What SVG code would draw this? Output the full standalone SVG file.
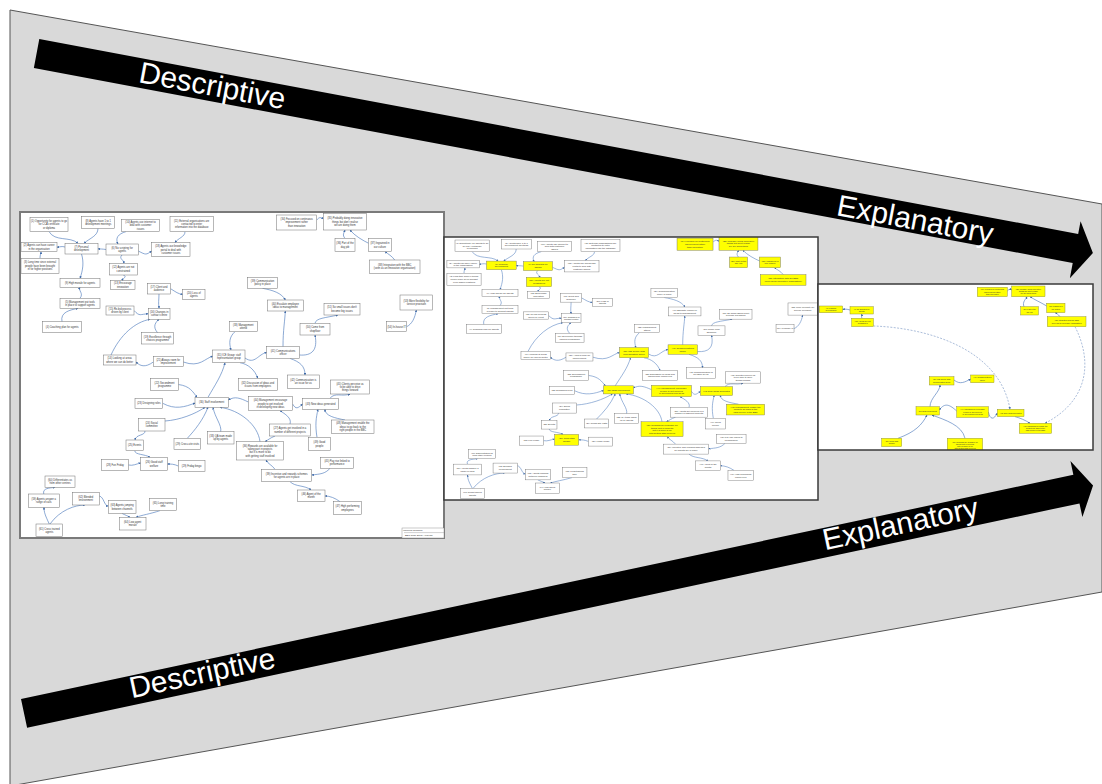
<svg xmlns="http://www.w3.org/2000/svg" xmlns:xlink="http://www.w3.org/1999/xlink" width="1102" height="784" viewBox="0 0 1102 784">
  <defs>
    <style>
      .band { fill: #000; }
      .big { font-family: "Liberation Sans", Arial, sans-serif; font-size: 30px; fill: #fff; }
      .frame { fill: #fff; }
      .nd rect { fill: #fff; stroke: #707070; stroke-width: 0.5; }
      .nd.hl rect { fill: var(--hl, #fff); }
      .nd text { font-family: "Liberation Sans", Arial, sans-serif; font-size: 2.6px; fill: #333; text-anchor: middle; }
      .rn rect { fill: #ffff00; stroke: #8a8a3a; stroke-width: 0.45; }
      .rn text { font-family: "Liberation Sans", Arial, sans-serif; font-size: 1.9px; fill: #333; text-anchor: middle; }
      .links path { fill: none; stroke: #4f7cbd; stroke-width: 0.65; marker-end: url(#ah); }
      .links path.dash { stroke-dasharray: 2 1.4; stroke: #7f9bc6; }
      .cap text { font-family: "Liberation Sans", Arial, sans-serif; font-size: 2.4px; fill: #333; }
    </style>
    <marker id="ah" viewBox="0 0 6 6" refX="5.5" refY="3" markerWidth="2.4" markerHeight="2.4" markerUnits="userSpaceOnUse" orient="auto">
      <path d="M0,0 L6,3 L0,6 z" fill="#3f6aa8"/>
    </marker>
    <clipPath id="midClip"><rect x="444" y="237" width="374" height="263"/></clipPath>
    <clipPath id="rightClip"><rect x="818" y="284" width="275" height="166"/></clipPath>

    <!-- influence diagram (full map), drawn in panel coordinates -->
    <g id="map">
      <g id="connectors" class="links">
        <path d="M49,231.6 C55,242 70,236 78,243.3"/>
        <path d="M98,228.4 C98,236 90,238 84,243.3"/>
        <path d="M65,247 C62,246 60,247 57,247.2"/>
        <path d="M40,258.3 C40,255 41,253 41,251.7"/>
        <path d="M106,249.5 C103,249 100,249 98,248.8"/>
        <path d="M81.5,254 C84,262 83,270 80,278.3"/>
        <path d="M80,298.3 C84,293 78,291 80,287.3"/>
        <path d="M62,321.7 C60,312 70,310 78,308.3"/>
        <path d="M126,231.6 C118,234 115,238 118,244"/>
        <path d="M138.3,251 C146,255 146,255 151.7,251"/>
        <path d="M185,231.7 C185,237 178,238 175,242.7"/>
        <path d="M122,255 C118,259 125,260 123.3,263.3"/>
        <path d="M123.3,275 C128,277 122,278 122.8,280.7"/>
        <path d="M159,294 C159,300 158,303 159.2,308.3"/>
        <path d="M170.6,288.7 C176,292 178,294 182.7,294.3"/>
        <path d="M134,310.5 C140,317 140,314 148.3,313.8"/>
        <path d="M157.5,332.7 C152,326 156,322 159,319.3"/>
        <path d="M111,355 C120,335 135,322 150,319.3"/>
        <path d="M153.3,362 C145,368 140,366 136,362"/>
        <path d="M183.3,362 C200,368 205,358 212.7,356.3"/>
        <path d="M235,331.7 C229,337 229,343 231,350"/>
        <path d="M245,358 C255,365 258,354 266.7,352.5"/>
        <path d="M262.5,288.3 C272,290 282,293 285.3,300"/>
        <path d="M283,346.7 C283,330 285,320 285.3,311"/>
        <path d="M299.4,355 C312,356 318,350 315,335"/>
        <path d="M315,323.3 C316,318 325,318 338,315"/>
        <path d="M290,358.4 C300,362 305,366 305,375"/>
        <path d="M240,362.7 C248,364 255,370 257.8,378.3"/>
        <path d="M208,397.3 C215,385 222,375 225,362.7"/>
        <path d="M178.4,384.5 C190,386 193,392 197,397.3"/>
        <path d="M162.7,403.3 C175,410 185,407 195,403"/>
        <path d="M165,421 C180,420 195,414 205,407.3"/>
        <path d="M248.3,402 C240,398 235,396 228.3,400"/>
        <path d="M292.6,404 C296,410 298,408 302.7,404"/>
        <path d="M330,398.3 C335,392 342,397 350,394"/>
        <path d="M345,420 C335,418 325,416 325,409.3"/>
        <path d="M317,437.3 C315,425 316,418 318,409.3"/>
        <path d="M187.3,438.3 C195,430 203,420 208,407.3"/>
        <path d="M220.7,431.7 C222,425 215,418 213,407.3"/>
        <path d="M260,441.7 C258,425 240,410 220,407.3"/>
        <path d="M290,424 C292,418 285,414 280,410.7"/>
        <path d="M275,436 C270,438 268,440 265,441.7"/>
        <path d="M145,431 C145,436 136,434 135,440"/>
        <path d="M134.7,450.7 C135,455 145,454 150,457.3"/>
        <path d="M128.4,465 C133,466 136,464 140.7,463"/>
        <path d="M178.3,466 C174,464 171,464 167.4,464"/>
        <path d="M275,469.3 C272,465 268,464 266,460"/>
        <path d="M330,468.3 C325,474 320,474 311.7,475"/>
        <path d="M290,481.6 C295,487 305,485 311,490"/>
        <path d="M340,501.7 C335,498 330,496 325,496"/>
        <path d="M43.8,494 C42,488 50,488 55,487.3"/>
        <path d="M49.3,524 C45,515 44,512 44,507.3"/>
        <path d="M50,524 C60,510 75,505 85,505"/>
        <path d="M99.3,496 C104,497 104,506 108.3,506"/>
        <path d="M122,513.4 C125,515 128,516 130,517.3"/>
        <path d="M160,510.6 C150,514 142,515 136,517.3"/>
        <path d="M316.7,220 C319,217 321,217 323.3,219"/>
        <path d="M345,238.3 C342,235 344,233 345,230"/>
        <path d="M370,244 C362,240 355,236 350,230"/>
        <path d="M394.7,260 C392,256 388,254 385,251.6"/>
        <path d="M406.7,326.7 C412,324 415,318 416.3,310"/>
      </g>
      <g id="n1" class="nd"><rect x="30" y="217.3" width="38" height="14.3"/><text y="222.05"><tspan x="49">(1) Opportunity for agents to go</tspan><tspan x="49" dy="3.3">for CCA certificate</tspan><tspan x="49" dy="3.3">or diploma</tspan></text></g>
      <g id="n8" class="nd"><rect x="81.7" y="216.7" width="33" height="11.7"/><text y="221.8"><tspan x="98.2">(8) Agents have 1 to 1</tspan><tspan x="98.2" dy="3.3">development meetings</tspan></text></g>
      <g id="n2" class="nd"><rect x="21" y="242.7" width="36" height="9"/><text y="246.45"><tspan x="39">(2) Agents can have career</tspan><tspan x="39" dy="3.3">in the organisation</tspan></text></g>
      <g id="n7" class="nd hl"><rect x="65" y="243.3" width="33" height="10.7"/><text y="247.9"><tspan x="81.5">(7) Personal</tspan><tspan x="81.5" dy="3.3">development</tspan></text></g>
      <g id="n3" class="nd"><rect x="21" y="258.3" width="38" height="15"/><text y="263.4"><tspan x="40">(3) Long time since external</tspan><tspan x="40" dy="3.3">people have been brought</tspan><tspan x="40" dy="3.3">in for higher positions</tspan></text></g>
      <g id="n9" class="nd"><rect x="60" y="278.3" width="40" height="9"/><text y="283.7"><tspan x="80">(9) High morale for agents</tspan></text></g>
      <g id="n5" class="nd"><rect x="60" y="298.3" width="40" height="10"/><text y="302.55"><tspan x="80">(5) Management put tools</tspan><tspan x="80" dy="3.3">in place to support agents</tspan></text></g>
      <g id="n4" class="nd"><rect x="42.7" y="321.7" width="39" height="11"/><text y="328.1"><tspan x="62.2">(4) Coaching plan for agents</tspan></text></g>
      <g id="n10" class="nd"><rect x="121.7" y="219.3" width="37.7" height="12.3"/><text y="223.05"><tspan x="140.55">(10) Agents use internet to</tspan><tspan x="140.55" dy="3.3">deal with customer</tspan><tspan x="140.55" dy="3.3">issues</tspan></text></g>
      <g id="n11" class="nd"><rect x="170" y="216.7" width="43.3" height="15"/><text y="221.8"><tspan x="191.65">(11) External organisations are</tspan><tspan x="191.65" dy="3.3">contacted to enter</tspan><tspan x="191.65" dy="3.3">information into the database</tspan></text></g>
      <g id="n6" class="nd hl"><rect x="106" y="244" width="32.3" height="11"/><text y="248.75"><tspan x="122.15">(6) No scripting for</tspan><tspan x="122.15" dy="3.3">agents</tspan></text></g>
      <g id="n18" class="nd"><rect x="151.7" y="242.7" width="38.3" height="14"/><text y="247.3"><tspan x="170.85">(18) Agents use knowledge</tspan><tspan x="170.85" dy="3.3">portal to deal with</tspan><tspan x="170.85" dy="3.3">customer issues</tspan></text></g>
      <g id="n12" class="nd hl"><rect x="109.3" y="263.3" width="28" height="11.7"/><text y="268.4"><tspan x="123.3">(12) Agents are not</tspan><tspan x="123.3" dy="3.3">constrained</tspan></text></g>
      <g id="n13" class="nd"><rect x="110.7" y="280.7" width="24.3" height="8.7"/><text y="284.3"><tspan x="122.85">(13) Encourage</tspan><tspan x="122.85" dy="3.3">innovation</tspan></text></g>
      <g id="n17" class="nd"><rect x="147.3" y="283.3" width="23.3" height="10.7"/><text y="287.9"><tspan x="158.95">(17) Client and</tspan><tspan x="158.95" dy="3.3">audience</tspan></text></g>
      <g id="n20" class="nd"><rect x="182.7" y="289.3" width="22.3" height="10"/><text y="293.55"><tspan x="193.85">(20) Loss of</tspan><tspan x="193.85" dy="3.3">agents</tspan></text></g>
      <g id="n15" class="nd"><rect x="106" y="306" width="28" height="9"/><text y="309.75"><tspan x="120">(15) Re-bid process</tspan><tspan x="120" dy="3.3">driven by client</tspan></text></g>
      <g id="n16" class="nd"><rect x="148.3" y="308.3" width="21.7" height="11"/><text y="313.05"><tspan x="159.15">(16) Changes in</tspan><tspan x="159.15" dy="3.3">contact centre</tspan></text></g>
      <g id="n19" class="nd"><rect x="141.7" y="332.7" width="31.7" height="11.3"/><text y="337.6"><tspan x="157.55">(19) Excellence through</tspan><tspan x="157.55" dy="3.3">choices programme</tspan></text></g>
      <g id="n14" class="nd"><rect x="103.3" y="355" width="32.7" height="10"/><text y="359.25"><tspan x="119.65">(14) Looking at areas</tspan><tspan x="119.65" dy="3.3">where we can do better</tspan></text></g>
      <g id="n21" class="nd"><rect x="153.3" y="356.7" width="30" height="10"/><text y="360.95"><tspan x="168.3">(21) Always room for</tspan><tspan x="168.3" dy="3.3">improvement</tspan></text></g>
      <g id="n31" class="nd hl"><rect x="212.7" y="350" width="32.3" height="12.7"/><text y="355.6"><tspan x="228.85">(31) ICE Group: staff</tspan><tspan x="228.85" dy="3.3">representation group</tspan></text></g>
      <g id="n33" class="nd"><rect x="229.3" y="321.7" width="28" height="10"/><text y="325.95"><tspan x="243.3">(33) Management</tspan><tspan x="243.3" dy="3.3">attend</tspan></text></g>
      <g id="n39" class="nd"><rect x="247.7" y="277.3" width="29.7" height="11"/><text y="282.05"><tspan x="262.55">(39) Communication</tspan><tspan x="262.55" dy="3.3">policy in place</tspan></text></g>
      <g id="n40" class="nd"><rect x="267.3" y="300" width="36" height="11"/><text y="304.75"><tspan x="285.3">(40) Escalate employee</tspan><tspan x="285.3" dy="3.3">ideas to management</tspan></text></g>
      <g id="n41" class="nd hl"><rect x="266.7" y="346.7" width="32.7" height="11.7"/><text y="351.8"><tspan x="283.05">(41) Communications</tspan><tspan x="283.05" dy="3.3">officer</tspan></text></g>
      <g id="n51" class="nd"><rect x="324" y="303.3" width="36" height="11.7"/><text y="308.4"><tspan x="342">(51) So small issues don't</tspan><tspan x="342" dy="3.3">become big issues</tspan></text></g>
      <g id="n50" class="nd"><rect x="300" y="323.3" width="30" height="11.7"/><text y="328.4"><tspan x="315">(50) Come from</tspan><tspan x="315" dy="3.3">shopfloor</tspan></text></g>
      <g id="n42" class="nd"><rect x="287.3" y="375" width="32" height="13.3"/><text y="380.9"><tspan x="303.3">(42) Communication is</tspan><tspan x="303.3" dy="3.3">an issue for us</tspan></text></g>
      <g id="n34" class="nd hl"><rect x="276.7" y="215" width="40" height="15"/><text y="220.1"><tspan x="296.7">(34) Focused on continuous</tspan><tspan x="296.7" dy="3.3">improvement rather</tspan><tspan x="296.7" dy="3.3">than innovation</tspan></text></g>
      <g id="n35" class="nd hl"><rect x="323.3" y="213.3" width="43.3" height="16.7"/><text y="219.25"><tspan x="344.95">(35) Probably doing innovative</tspan><tspan x="344.95" dy="3.3">things but don't realise</tspan><tspan x="344.95" dy="3.3">we are doing them</tspan></text></g>
      <g id="n36" class="nd hl"><rect x="335" y="238.3" width="20" height="13.3"/><text y="244.2"><tspan x="345">(36) Part of the</tspan><tspan x="345" dy="3.3">day job</tspan></text></g>
      <g id="n37" class="nd hl"><rect x="368.3" y="238.3" width="23.3" height="13.3"/><text y="244.2"><tspan x="379.95">(37) Ingrained in</tspan><tspan x="379.95" dy="3.3">our culture</tspan></text></g>
      <g id="n38" class="nd hl"><rect x="369.3" y="260" width="50.7" height="13.3"/><text y="265.9"><tspan x="394.65">(38) Integration with the BBC</tspan><tspan x="394.65" dy="3.3">(seen as an innovative organisation)</tspan></text></g>
      <g id="n53" class="nd"><rect x="400" y="295" width="32.7" height="15"/><text y="301.75"><tspan x="416.35">(53) More flexibility for</tspan><tspan x="416.35" dy="3.3">service provision</tspan></text></g>
      <g id="n54" class="nd"><rect x="386.7" y="321.7" width="20" height="10"/><text y="327.6"><tspan x="396.7">(54) In-house IT</tspan></text></g>
      <g id="n22" class="nd"><rect x="150.7" y="378.3" width="27.7" height="12.3"/><text y="383.7"><tspan x="164.55">(22) Secondment</tspan><tspan x="164.55" dy="3.3">programme</tspan></text></g>
      <g id="n23" class="nd"><rect x="135" y="398.3" width="27.7" height="10"/><text y="404.2"><tspan x="148.85">(23) Designing roles</tspan></text></g>
      <g id="n30" class="nd hl"><rect x="195" y="397.3" width="33.3" height="10"/><text y="403.2"><tspan x="211.65">(30) Staff involvement</tspan></text></g>
      <g id="n32" class="nd"><rect x="238.3" y="378.3" width="39" height="12.3"/><text y="383.7"><tspan x="257.8">(32) Discussion of ideas and</tspan><tspan x="257.8" dy="3.3">issues from employees</tspan></text></g>
      <g id="n44" class="nd hl"><rect x="248.3" y="396.7" width="44.3" height="14"/><text y="401.3"><tspan x="270.45">(44) Management encourage</tspan><tspan x="270.45" dy="3.3">people to get involved</tspan><tspan x="270.45" dy="3.3">in developing new ideas</tspan></text></g>
      <g id="n43" class="nd hl"><rect x="302.7" y="398.3" width="35.7" height="11"/><text y="404.7"><tspan x="320.55">(43) New ideas generated</tspan></text></g>
      <g id="n45" class="nd"><rect x="330.7" y="380" width="38.7" height="14"/><text y="384.6"><tspan x="350.05">(45) Clients perceive us</tspan><tspan x="350.05" dy="3.3">to be able to drive</tspan><tspan x="350.05" dy="3.3">things forward</tspan></text></g>
      <g id="n48" class="nd hl"><rect x="331.7" y="420" width="42.3" height="13.3"/><text y="424.25"><tspan x="352.85">(48) Management enable the</tspan><tspan x="352.85" dy="3.3">ideas to go back to the</tspan><tspan x="352.85" dy="3.3">right people in the BBC</tspan></text></g>
      <g id="n24" class="nd"><rect x="138.3" y="418.5" width="26.7" height="12.5"/><text y="424"><tspan x="151.65">(24) Social</tspan><tspan x="151.65" dy="3.3">committee</tspan></text></g>
      <g id="n27" class="nd"><rect x="269.3" y="424" width="41.3" height="12"/><text y="429.25"><tspan x="289.95">(27) Agents get involved in a</tspan><tspan x="289.95" dy="3.3">number of different projects</tspan></text></g>
      <g id="n49" class="nd"><rect x="308.3" y="437.3" width="22.3" height="13.3"/><text y="443.2"><tspan x="319.45">(49) Good</tspan><tspan x="319.45" dy="3.3">people</tspan></text></g>
      <g id="n25" class="nd"><rect x="126" y="440" width="17.3" height="10.7"/><text y="446.25"><tspan x="134.65">(25) Events</tspan></text></g>
      <g id="n29" class="nd"><rect x="174" y="438.3" width="26.7" height="11"/><text y="444.7"><tspan x="187.35">(29) Cross-site visits</tspan></text></g>
      <g id="nqa" class="nd"><rect x="207.3" y="431.7" width="26.7" height="12.3"/><text y="437.1"><tspan x="220.65">(33) QA team made</tspan><tspan x="220.65" dy="3.3">up by agents</tspan></text></g>
      <g id="nrw" class="nd hl"><rect x="236.7" y="441.7" width="46.7" height="18.3"/><text y="446.8"><tspan x="260.05">(36) Rewards are available for</tspan><tspan x="260.05" dy="3.3">taking part in projects</tspan><tspan x="260.05" dy="3.3">but it is more to do</tspan><tspan x="260.05" dy="3.3">with getting staff involved</tspan></text></g>
      <g id="n28" class="nd"><rect x="101.7" y="459.3" width="26.7" height="11.3"/><text y="465.85"><tspan x="115.05">(28) Fun Friday</tspan></text></g>
      <g id="n26" class="nd hl"><rect x="140.7" y="457.3" width="26.7" height="13.3"/><text y="463.2"><tspan x="154.05">(26) Good staff</tspan><tspan x="154.05" dy="3.3">welfare</tspan></text></g>
      <g id="nbg" class="nd"><rect x="178.3" y="460.7" width="26.7" height="11"/><text y="467.1"><tspan x="191.65">(29) Friday bingo</tspan></text></g>
      <g id="npay" class="nd"><rect x="320.7" y="457.3" width="32.7" height="11"/><text y="462.05"><tspan x="337.05">(45) Pay rise linked to</tspan><tspan x="337.05" dy="3.3">performance</tspan></text></g>
      <g id="ninc" class="nd"><rect x="261.7" y="469.3" width="50" height="12.3"/><text y="474.7"><tspan x="286.7">(39) Incentive and rewards schemes</tspan><tspan x="286.7" dy="3.3">for agents are in place</tspan></text></g>
      <g id="nagm" class="nd"><rect x="297.3" y="490" width="27.7" height="11.7"/><text y="495.1"><tspan x="311.15">(46) Agent of the</tspan><tspan x="311.15" dy="3.3">month</tspan></text></g>
      <g id="n47" class="nd"><rect x="333.3" y="501.7" width="28.3" height="12.7"/><text y="507.3"><tspan x="347.45">(47) High performing</tspan><tspan x="347.45" dy="3.3">employees</tspan></text></g>
      <g id="n60" class="nd"><rect x="45" y="476" width="30" height="11.3"/><text y="480.9"><tspan x="60">(60) Differentiates us</tspan><tspan x="60" dy="3.3">from other centres</tspan></text></g>
      <g id="n59" class="nd"><rect x="28.3" y="494" width="31" height="13.3"/><text y="499.9"><tspan x="43.8">(59) Agents answer a</tspan><tspan x="43.8" dy="3.3">range of calls</tspan></text></g>
      <g id="n62" class="nd"><rect x="72.3" y="492.7" width="27" height="12.3"/><text y="498.1"><tspan x="85.8">(62) Blended</tspan><tspan x="85.8" dy="3.3">environment</tspan></text></g>
      <g id="n63" class="nd"><rect x="108.3" y="500.7" width="27.7" height="12.7"/><text y="506.3"><tspan x="122.15">(63) Agents jumping</tspan><tspan x="122.15" dy="3.3">between channels</tspan></text></g>
      <g id="n65" class="nd"><rect x="149.3" y="498.3" width="27.3" height="12.3"/><text y="503.7"><tspan x="162.95">(65) Long training</tspan><tspan x="162.95" dy="3.3">time</tspan></text></g>
      <g id="n64" class="nd"><rect x="119.3" y="517.3" width="26.7" height="12.7"/><text y="522.9"><tspan x="132.65">(64) Low agent</tspan><tspan x="132.65" dy="3.3">morale</tspan></text></g>
      <g id="n61" class="nd"><rect x="36" y="524" width="26.7" height="12.7"/><text y="529.6"><tspan x="49.35">(61) Cross trained</tspan><tspan x="49.35" dy="3.3">agents</tspan></text></g>
    </g>
  </defs>

  <!-- grey funnel background -->
  <polygon points="10,10 1102,204 1102,592 10,786" fill="#d9d9d9" stroke="#555" stroke-width="1"/>

  <!-- upper band: Descriptive to Explanatory -->
  <g id="arrow-top" transform="translate(39.3,39) rotate(10.63)">
    <path class="band" d="M0,0 H1057 V-13 L1075,16 L1057,45 V29.5 H0 Z"/>
    <text class="big" x="104.6" y="24">Descriptive</text>
    <text class="big" x="815" y="26">Explanatory</text>
  </g>

  <!-- lower band -->
  <g id="arrow-bottom" transform="translate(21,699) rotate(-12.03)">
    <path class="band" d="M0,0 H1076 V-14 L1093,14.6 L1076,43.3 V29.3 H0 Z"/>
    <text class="big" x="108.4" y="22.4">Descriptive</text>
    <text class="big" x="817.3" y="22">Explanatory</text>
  </g>

  <!-- panel 1: full influence diagram -->
  <g id="panel-full">
    <rect class="frame" x="20" y="212" width="424" height="326" stroke="#7a7a7a" stroke-width="2"/>
    <use href="#map" xlink:href="#map"/>
    <g id="caption" class="cap">
      <rect x="402" y="528" width="42" height="10" fill="#fff" stroke="#8a8a8a" stroke-width="0.45"/>
      <line x1="404" y1="532.6" x2="444" y2="532.6" stroke="#8a8a8a" stroke-width="0.4"/>
      <text x="403" y="531.4">Influence Diagram</text>
      <text x="405" y="536.2">BBC Case Study Analysis</text>
    </g>
  </g>

  <!-- panel 2: same map with key factors highlighted -->
  <g id="panel-highlight">
    <rect class="frame" x="444" y="237" width="374" height="263"/>
    <g clip-path="url(#midClip)">
      <use href="#map" xlink:href="#map" transform="matrix(0.9 0 0 0.81 428 64)" style="--hl:#ffff00"/>
    </g>
    <rect x="444" y="237" width="374" height="263" fill="none" stroke="#3a3a3a" stroke-width="1.5"/>
  </g>

  <!-- panel 3: reduced map of highlighted factors -->
  <g id="panel-reduced">
    <rect class="frame" x="818" y="284" width="275" height="166"/>
    <g clip-path="url(#rightClip)">
      <g id="r-connectors" class="links">
        <path d="M850,310 C847,309 845,309 842.6,309.5"/>
        <path d="M862,318.3 C861,316.5 862,315.5 861.6,314"/>
        <path class="dash" d="M873.4,326 C930,328 1000,350 1010,409.3"/>
        <path class="dash" d="M1075,326.7 C1092,360 1090,400 1045,423.3"/>
        <path d="M1007.3,291 C1009,289 1010,289 1011.7,290"/>
        <path d="M1024,306.7 C1022,302 1026,299 1027,296.7"/>
        <path d="M1046.7,306 C1040,302 1035,300 1030,296.7"/>
        <path d="M1060,316.7 C1058,314 1056,313 1055,312.6"/>
        <path d="M954,380 C960,385 965,382 970.7,379"/>
        <path d="M930,406.7 C930,398 940,392 940,385"/>
        <path d="M956.7,411 C950,405 945,402 939.3,410"/>
        <path d="M988.4,412 C990,420 994,420 997.3,413"/>
        <path d="M1015,416.6 C1020,418 1025,420 1030,423.3"/>
        <path d="M898,438.3 C915,432 922,425 927,415"/>
        <path d="M965,438.3 C962,425 945,420 932,415"/>
      </g>
      <g id="r7" class="rn"><rect x="819.3" y="306" width="23.3" height="6.7"/><text y="308.85"><tspan x="830.95">(7) Personal</tspan><tspan x="830.95" dy="2.3">development</tspan></text></g>
      <g id="r6" class="rn"><rect x="850" y="306.7" width="23.3" height="7.3"/><text y="309.85"><tspan x="861.65">(6) No scripting for</tspan><tspan x="861.65" dy="2.3">agents</tspan></text></g>
      <g id="r12" class="rn"><rect x="851.7" y="318.3" width="21.7" height="8.3"/><text y="321.95"><tspan x="862.55">(12) Agents are not</tspan><tspan x="862.55" dy="2.3">constrained</tspan></text></g>
      <g id="r34" class="rn"><rect x="977.3" y="287.3" width="30" height="9.3"/><text y="290.3"><tspan x="992.3">(34) Focused on continuous</tspan><tspan x="992.3" dy="2.3">improvement rather</tspan><tspan x="992.3" dy="2.3">than innovation</tspan></text></g>
      <g id="r35" class="rn"><rect x="1011.7" y="286" width="33.3" height="10.7"/><text y="289.7"><tspan x="1028.35">(35) Probably doing innovative</tspan><tspan x="1028.35" dy="2.3">things but don't realise</tspan><tspan x="1028.35" dy="2.3">we are doing them</tspan></text></g>
      <g id="r36" class="rn"><rect x="1020.7" y="306.7" width="17.7" height="8.3"/><text y="310.35"><tspan x="1029.55">(36) Part of the</tspan><tspan x="1029.55" dy="2.3">day job</tspan></text></g>
      <g id="r37" class="rn"><rect x="1046.7" y="303.3" width="18.3" height="9.3"/><text y="307.45"><tspan x="1055.85">(37) Ingrained in</tspan><tspan x="1055.85" dy="2.3">our culture</tspan></text></g>
      <g id="r38" class="rn"><rect x="1047.3" y="316.7" width="38.7" height="10"/><text y="321.2"><tspan x="1066.65">(38) Integration with the BBC</tspan><tspan x="1066.65" dy="2.3">(seen as an innovative organisation)</tspan></text></g>
      <g id="r31" class="rn"><rect x="929.3" y="376.7" width="24.7" height="8.3"/><text y="380.35"><tspan x="941.65">(31) ICE Group: staff</tspan><tspan x="941.65" dy="2.3">representation group</tspan></text></g>
      <g id="r41" class="rn"><rect x="970.7" y="375" width="23.3" height="7.7"/><text y="378.35"><tspan x="982.35">(41) Communications</tspan><tspan x="982.35" dy="2.3">officer</tspan></text></g>
      <g id="r30" class="rn"><rect x="916" y="406.7" width="23.3" height="8.3"/><text y="411.5"><tspan x="927.65">(30) Staff involvement</tspan></text></g>
      <g id="r44" class="rn"><rect x="956.7" y="406.7" width="31.7" height="10.7"/><text y="410.4"><tspan x="972.55">(44) Management encourage</tspan><tspan x="972.55" dy="2.3">people to get involved</tspan><tspan x="972.55" dy="2.3">in developing new ideas</tspan></text></g>
      <g id="r43" class="rn"><rect x="997.3" y="409.3" width="26.7" height="7.3"/><text y="413.6"><tspan x="1010.65">(43) New ideas generated</tspan></text></g>
      <g id="r48" class="rn"><rect x="1019.3" y="423.3" width="32.3" height="10"/><text y="426.65"><tspan x="1035.45">(48) Management enable the</tspan><tspan x="1035.45" dy="2.3">ideas to go back to the</tspan><tspan x="1035.45" dy="2.3">right people in the BBC</tspan></text></g>
      <g id="r26" class="rn"><rect x="881.7" y="438.3" width="20" height="8.3"/><text y="441.95"><tspan x="891.7">(26) Good staff</tspan><tspan x="891.7" dy="2.3">welfare</tspan></text></g>
      <g id="rrw" class="rn"><rect x="947.3" y="438.3" width="35.3" height="14"/><text y="442.5"><tspan x="964.95">(36) Rewards are available for</tspan><tspan x="964.95" dy="2.3">taking part in projects</tspan><tspan x="964.95" dy="2.3">but it is more to do</tspan><tspan x="964.95" dy="2.3">with getting staff involved</tspan></text></g>
    </g>
    <rect x="818" y="284" width="275" height="166" fill="none" stroke="#3a3a3a" stroke-width="1.5"/>
  </g>
</svg>
